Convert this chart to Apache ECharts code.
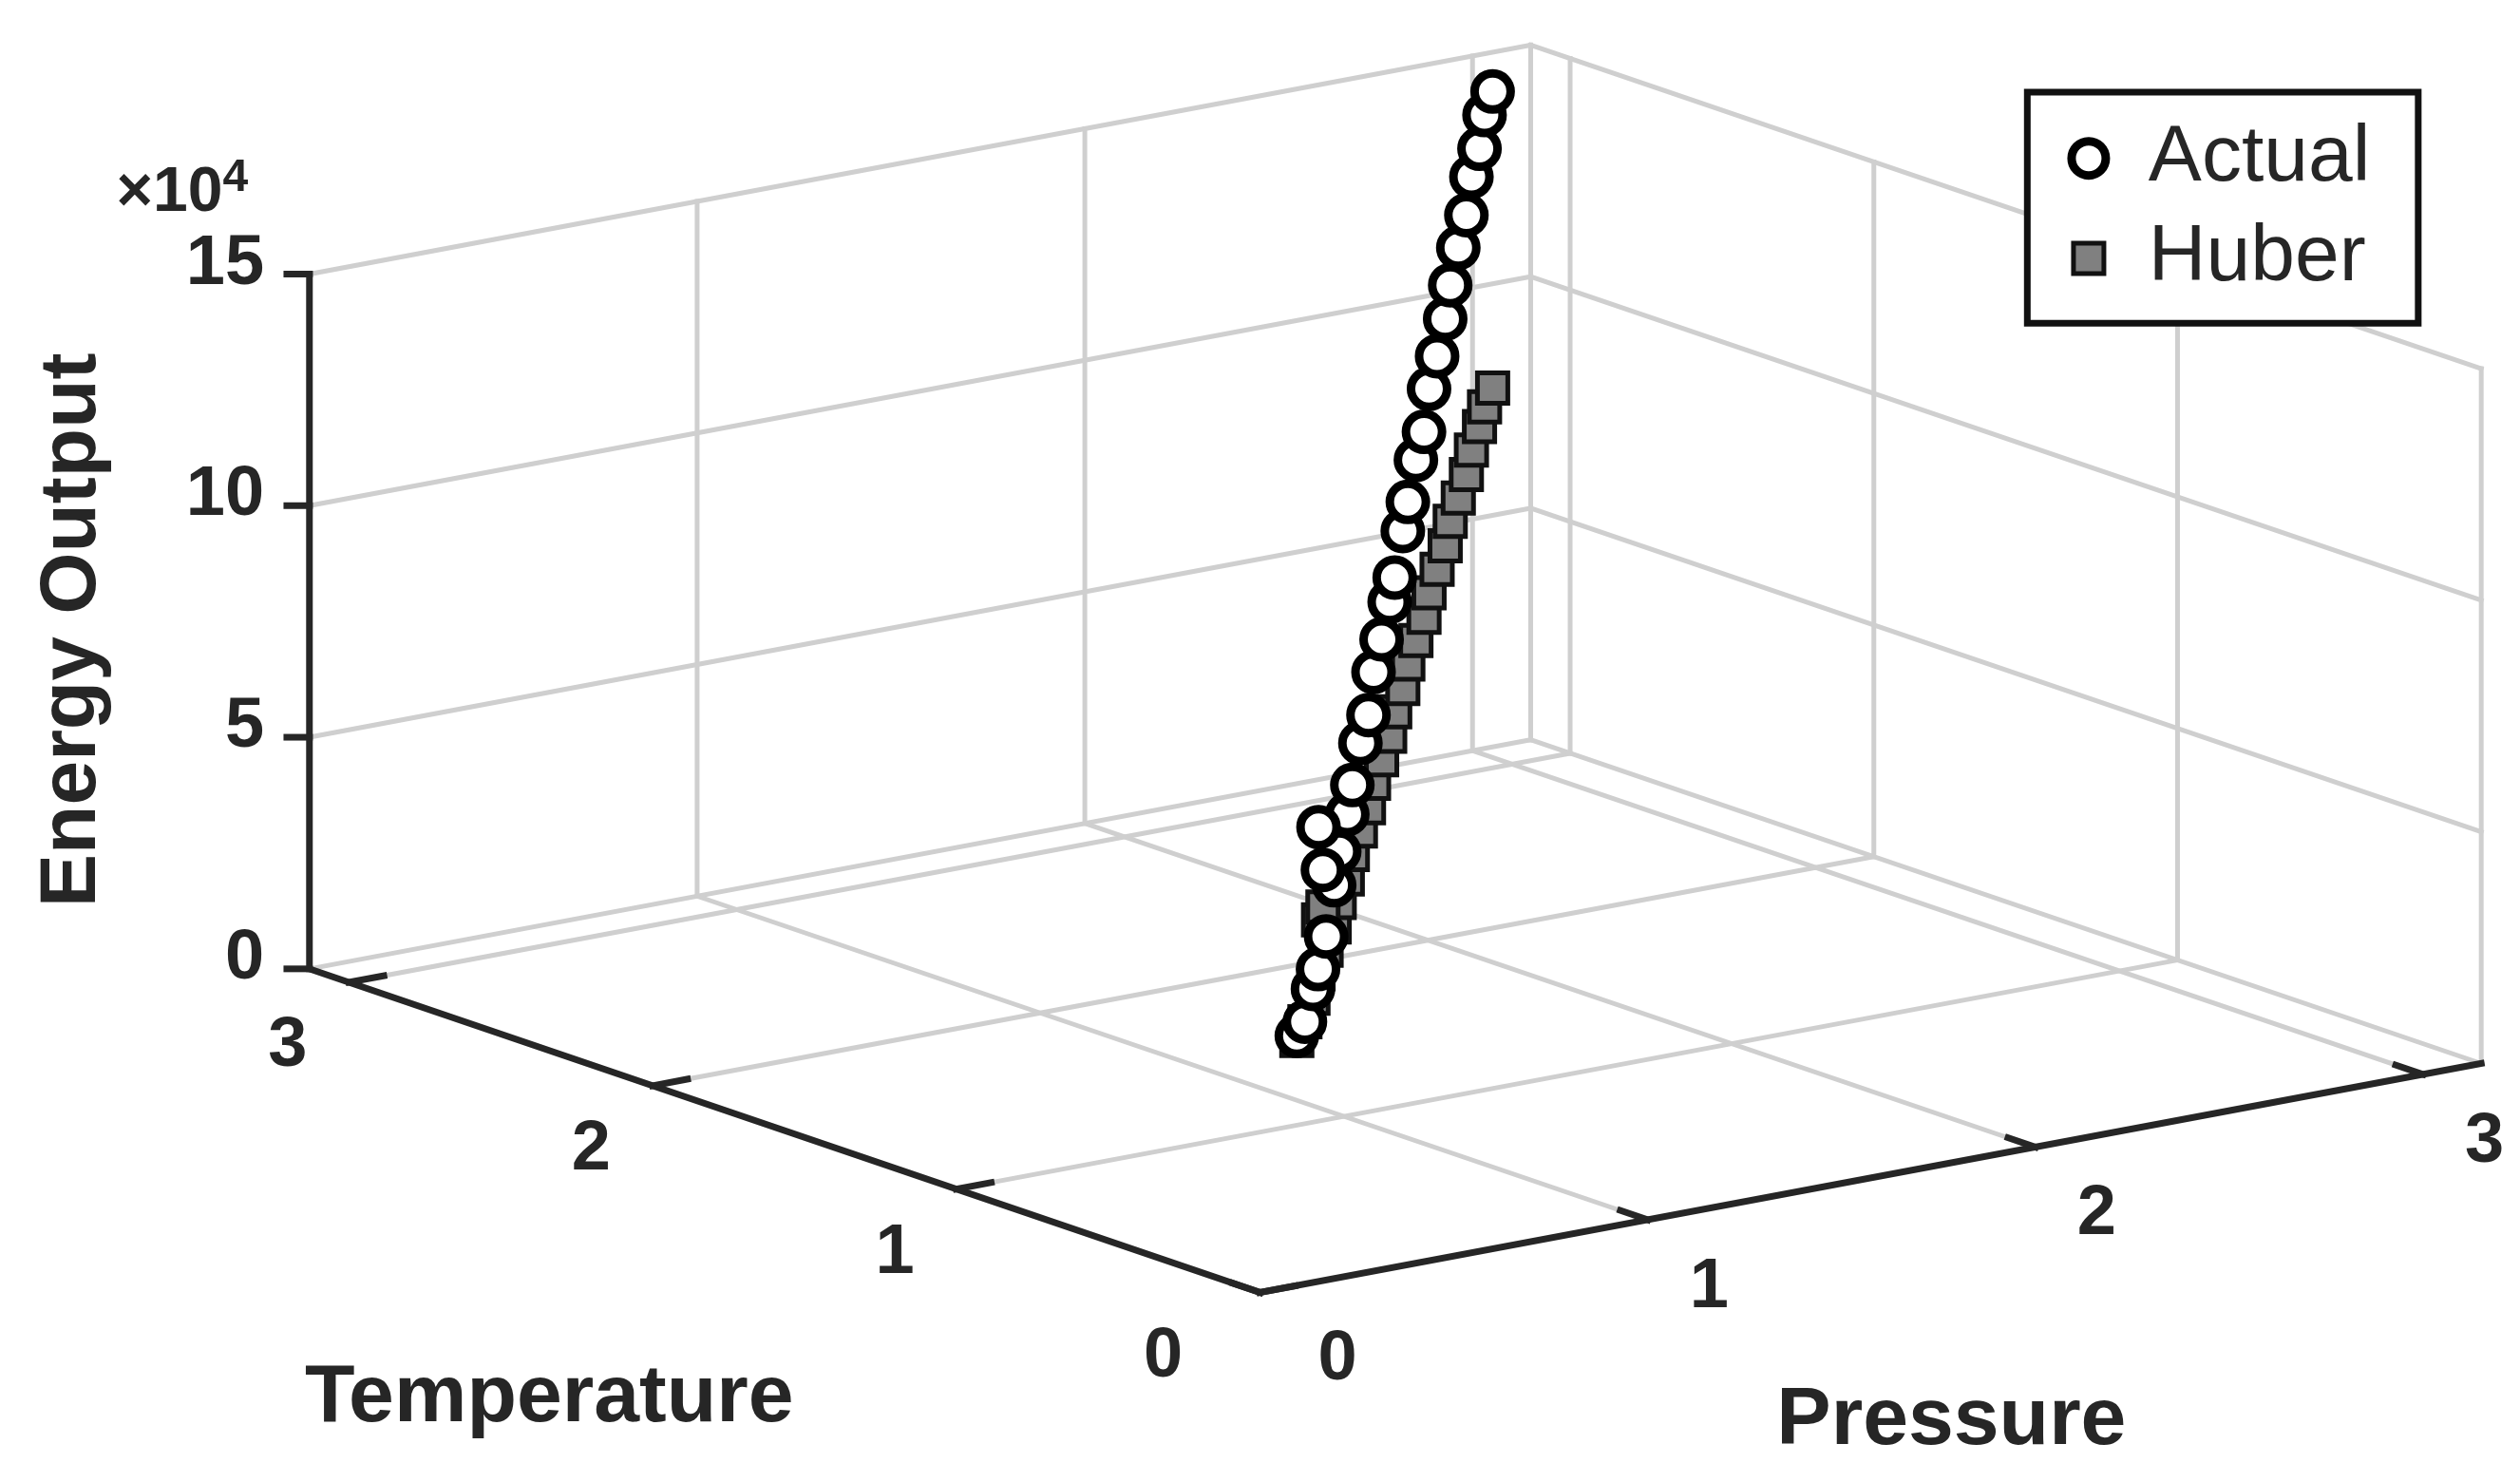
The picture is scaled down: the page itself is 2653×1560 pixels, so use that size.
<!DOCTYPE html>
<html>
<head>
<meta charset="utf-8">
<script src="https://cdn.jsdelivr.net/npm/echarts@6/dist/echarts.min.js"></script>
<style>html,body{margin:0;padding:0;background:#fff}#chart{width:2653px;height:1560px}</style>
</head>
<body>
<div id="chart"></div>
<script>
// 数据
const temperature = [1.50,1.55,1.60,1.66,1.71,1.76,1.82,1.87,1.93,1.98,2.03,2.09,2.14,2.19,2.25,2.30,2.36,2.41,2.46,2.52,2.57,2.62,2.68,2.73,2.78,2.84,2.89,2.95,3.00,1.62,1.58];
const pressure    = [1.27,1.33,1.39,1.45,1.51,1.57,1.63,1.69,1.75,1.81,1.87,1.93,1.99,2.05,2.11,2.17,2.23,2.29,2.35,2.41,2.47,2.53,2.59,2.65,2.71,2.77,2.83,2.89,2.95,1.42,1.40];
const actual      = [0.2,0.3,0.8,1.0,1.5,2.4,2.9,3.5,3.9,4.6,5.0,5.7,6.2,6.8,7.1,7.9,8.3,9.0,9.4,10.1,10.6,11.2,11.7,12.3,12.8,13.4,13.8,14.3,14.6,4.2,3.4];
const huber       = [0.1,0.3,0.6,0.9,1.2,1.5,1.8,2.1,2.4,2.7,3.0,3.3,3.6,3.9,4.2,4.5,4.8,5.1,5.4,5.7,6.0,6.3,6.6,6.9,7.2,7.5,7.8,8.0,8.2,2.2,2.6];
const tTicks = [0, 1, 2, 3];
const pTicks = [0, 1, 2, 3];
const zTicks = [0, 5, 10, 15];
const T_MAX = 3.13, P_MAX = 3.15, Z_MAX = 15;

// 正交投影
const K = 2653 / 1560;
function proj(t, p, z) {
    return [K * (780 - 188 * t + 240 * p), K * (800 - 64 * t - 45 * p - 28.67 * z)];
}

const FONT = 'Arial, Liberation Sans, sans-serif';
const graphics = [];
function seg(a, b, color, w) {
    graphics.push({ type: 'line', silent: true, shape: { x1: a[0], y1: a[1], x2: b[0], y2: b[1] },
        style: { stroke: color, lineWidth: w, lineCap: 'square' } });
}
function text(str, x, y, opt) {
    graphics.push({ type: 'text', x: x, y: y, rotation: opt.rotation || 0,
        style: Object.assign({ text: str, font: (opt.weight || 'bold') + ' ' + opt.size + 'px ' + FONT,
            fill: opt.fill || '#262626', align: 'center', verticalAlign: 'middle' }, opt.style || {}) });
}

// 网格线
const GRID = '#cfcfcf', GW = 5;
tTicks.slice(1).concat([T_MAX]).forEach(t => {
    seg(proj(t, 0, 0), proj(t, P_MAX, 0), GRID, GW);
    seg(proj(t, P_MAX, 0), proj(t, P_MAX, Z_MAX), GRID, GW);
});
seg(proj(0, P_MAX, 0), proj(0, P_MAX, Z_MAX), GRID, GW);
pTicks.slice(1).concat([P_MAX]).forEach(p => {
    seg(proj(0, p, 0), proj(T_MAX, p, 0), GRID, GW);
    seg(proj(T_MAX, p, 0), proj(T_MAX, p, Z_MAX), GRID, GW);
});
zTicks.slice(1).forEach(z => {
    seg(proj(T_MAX, 0, z), proj(T_MAX, P_MAX, z), GRID, GW);
    seg(proj(T_MAX, P_MAX, z), proj(0, P_MAX, z), GRID, GW);
});

// 坐标轴
const AX = '#262626', AW = 7;
seg(proj(0, 0, 0), proj(T_MAX, 0, 0), AX, AW);
seg(proj(0, 0, 0), proj(0, P_MAX, 0), AX, AW);
seg(proj(T_MAX, 0, 0), proj(T_MAX, 0, Z_MAX), AX, AW);
tTicks.forEach(t => {
    seg(proj(t, 0, 0), proj(t, 0.09, 0), AX, AW);
    const a = proj(t, 0, 0);
    text(String(t), a[0] - K * (t === 0 ? 60 : 38), a[1] + K * 40, { size: 74 });
});
pTicks.forEach(p => {
    seg(proj(0, p, 0), proj(0.09, p, 0), AX, AW);
    const a = proj(0, p, 0);
    text(String(p), a[0] + K * (p === 0 ? 48 : 38), a[1] + K * 42, { size: 74 });
});
zTicks.forEach(z => {
    const a = proj(T_MAX, 0, z);
    seg(a, [a[0] - K * 14, a[1]], AX, AW);
    text(String(z), a[0] - K * 28, a[1] - K * 6, { size: 74, style: { align: 'right' } });
});
graphics.push({ type: 'text', x: K * 72, y: K * 120, style: {
    text: '×10{s|4}', font: 'bold 66px ' + FONT, fill: '#262626', verticalAlign: 'middle',
    rich: { s: { fontSize: 48, fontWeight: 'bold', fontFamily: FONT, fill: '#262626', verticalAlign: 'top', padding: [0, 0, 32, 0] } } } });
text('Energy Output', K * 45, K * 390, { size: 84, rotation: Math.PI / 2 });
text('Temperature', K * 340, K * 866, { size: 86 });
text('Pressure', K * 1208, K * 880, { size: 86 });

// 图例
graphics.push({ type: 'rect', shape: { x: K * 1255, y: K * 57, width: K * 242, height: K * 143 },
    style: { fill: '#fff', stroke: '#111', lineWidth: 7 } });
graphics.push({ type: 'circle', shape: { cx: K * 1293, cy: K * 98, r: 18 }, style: { fill: '#fff', stroke: '#000', lineWidth: 9 } });
graphics.push({ type: 'rect', shape: { x: K * 1293 - 16, y: K * 160 - 16, width: 32, height: 32 }, style: { fill: '#808080', stroke: '#111', lineWidth: 5 } });
text('Actual', K * 1330, K * 98, { size: 84, weight: 'normal', style: { align: 'left' } });
text('Huber', K * 1330, K * 160, { size: 84, weight: 'normal', style: { align: 'left' } });

function toData(zs) {
    return temperature.map((t, i) => [t, pressure[i], zs[i]]);
}

const chart = echarts.init(document.getElementById('chart'));
chart.setOption({
    animation: false,
    graphic: graphics,
    series: [
        {
            name: 'Huber', type: 'custom', coordinateSystem: 'none', z: 5,
            data: toData(huber),
            renderItem: (params, api) => {
                const c = proj(api.value(0), api.value(1), api.value(2));
                return { type: 'rect', shape: { x: c[0] - 16, y: c[1] - 16, width: 32, height: 32 },
                    style: { fill: '#808080', stroke: '#111', lineWidth: 5 } };
            }
        },
        {
            name: 'Actual', type: 'custom', coordinateSystem: 'none', z: 6,
            data: toData(actual),
            renderItem: (params, api) => {
                const c = proj(api.value(0), api.value(1), api.value(2));
                return { type: 'circle', shape: { cx: c[0], cy: c[1], r: 19 },
                    style: { fill: '#fff', stroke: '#000', lineWidth: 9 } };
            }
        }
    ]
});
</script>
</body>
</html>
